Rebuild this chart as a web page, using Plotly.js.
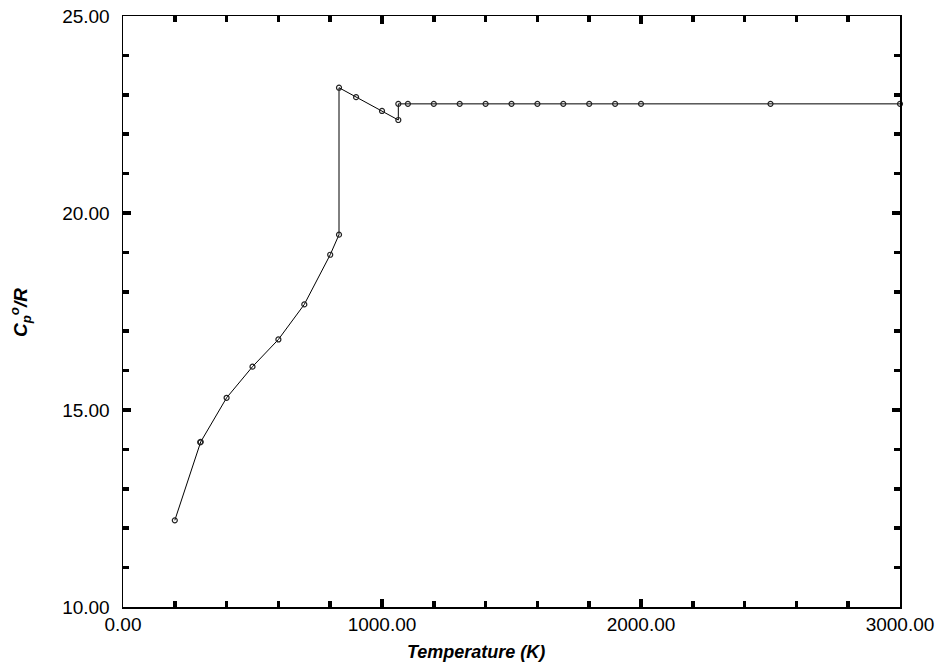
<!DOCTYPE html>
<html>
<head>
<meta charset="utf-8">
<script src="https://cdn.plot.ly/plotly-3.0.1.min.js"></script>
<style>html,body{margin:0;padding:0;background:#fff;}#chart{width:942px;height:668px;}</style>
</head>
<body>
<div id="chart"></div>
<script>
// Temperature (K)
var temperature = [200, 298.15, 300, 400, 500, 600, 700, 800, 834, 834, 900, 1000, 1063, 1063,
  1100, 1200, 1300, 1400, 1500, 1600, 1700, 1800, 1900, 2000, 2500, 3000];
// Cp°/R
var cpOverR = [12.20, 14.18, 14.19, 15.31, 16.10, 16.79, 17.68, 18.94, 19.45, 23.18, 22.94, 22.59, 22.36, 22.77,
  22.77, 22.77, 22.77, 22.77, 22.77, 22.77, 22.77, 22.77, 22.77, 22.77, 22.77, 22.77];

var xTitle = 'Temperature (K)';
var yTitle = 'C<sub>p</sub><sup>o</sup>/R';

var fontFam = 'Liberation Sans, Arial, Helvetica, sans-serif';

var trace = {
  x: temperature,
  y: cpOverR,
  type: 'scatter',
  mode: 'lines+markers',
  line: {color: '#000', width: 1},
  marker: {symbol: 'circle-open', size: 5, color: '#222', line: {width: 1.2, color: '#222'}},
  cliponaxis: false,
  hoverinfo: 'x+y'
};

var axisCommon = {
  showline: true, linecolor: '#000', linewidth: 1.5, mirror: 'ticks',
  ticks: 'inside', tickcolor: '#000', tickwidth: 3.5, ticklen: 8,
  showgrid: false, zeroline: false,
  tickformat: '.2f',
  tickfont: {family: fontFam, size: 19, color: '#000'}
};

var layout = {
  width: 942, height: 668,
  margin: {l: 123, r: 42, t: 16, b: 61},
  paper_bgcolor: '#fff', plot_bgcolor: '#fff',
  showlegend: false,
  xaxis: Object.assign({}, axisCommon, {
    range: [0, 3000], tickmode: 'linear', tick0: 0, dtick: 1000,
    ticklabelstandoff: 0,
    minor: {dtick: 200, ticks: 'inside', ticklen: 6, tickwidth: 3.5, tickcolor: '#000', showgrid: false}
  }),
  yaxis: Object.assign({}, axisCommon, {
    range: [10, 25], tickmode: 'linear', tick0: 10, dtick: 5,
    ticklabelstandoff: 8,
    minor: {dtick: 1, ticks: 'inside', ticklen: 6, tickwidth: 3.5, tickcolor: '#000', showgrid: false}
  }),
  annotations: [
    {text: '<b><i>' + xTitle + '</i></b>', xref: 'paper', yref: 'paper',
     x: (476 - 123) / 777, y: -(652 - 607) / 591, xanchor: 'center', yanchor: 'middle',
     showarrow: false, font: {family: fontFam, size: 18, color: '#000'}},
    {text: '<b><i>' + yTitle + '</i></b>', xref: 'paper', yref: 'paper',
     x: -(123 - 20) / 777, y: (607 - 313) / 591, xanchor: 'center', yanchor: 'middle',
     textangle: -90, showarrow: false, font: {family: fontFam, size: 19, color: '#000'}}
  ]
};

Plotly.newPlot('chart', [trace], layout, {displayModeBar: false, staticPlot: true});
</script>
</body>
</html>
